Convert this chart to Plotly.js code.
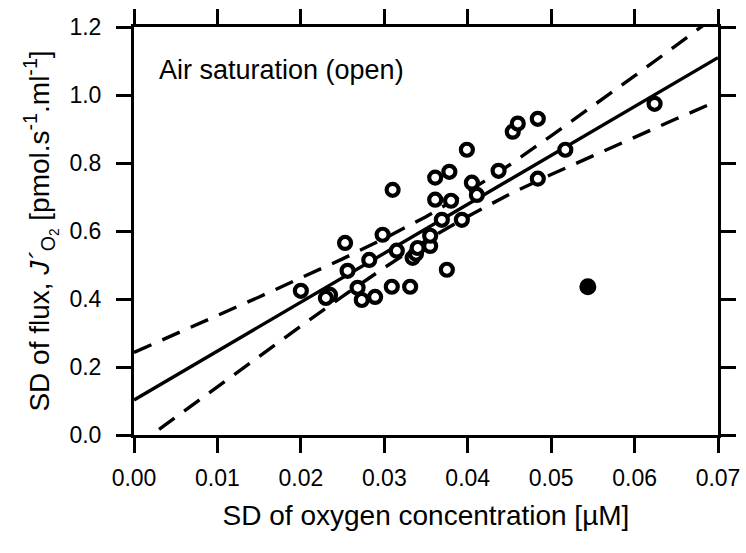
<!DOCTYPE html>
<html>
<head>
<meta charset="utf-8">
<script src="https://cdn.plot.ly/plotly-3.0.1.min.js"></script>
<style>html,body{margin:0;padding:0;background:#fff;}#chart{width:746px;height:553px;}</style>
</head>
<body>
<div id="chart"></div>
<script>
// Open circles (included in regression)
var sdOxygen = [0.0200, 0.0235, 0.0230, 0.0253, 0.0256, 0.0268, 0.0273, 0.0289, 0.0282, 0.0298,
                0.0309, 0.0310, 0.0315, 0.0331, 0.0334, 0.0338, 0.0340, 0.0355, 0.0355, 0.0361,
                0.0361, 0.0369, 0.0375, 0.0378, 0.0380, 0.0393, 0.0399, 0.0405, 0.0411, 0.0437,
                0.0454, 0.0460, 0.0484, 0.0484, 0.0517, 0.0624];
var sdFlux =   [0.424, 0.412, 0.403, 0.565, 0.483, 0.433, 0.397, 0.406, 0.515, 0.589,
                0.436, 0.721, 0.542, 0.436, 0.521, 0.533, 0.550, 0.556, 0.586, 0.757,
                0.692, 0.633, 0.486, 0.774, 0.689, 0.633, 0.839, 0.742, 0.706, 0.777,
                0.892, 0.916, 0.930, 0.754, 0.839, 0.974];
// Outlier (filled circle)
var outlierX = [0.0544];
var outlierY = [0.436];
// Regression line
var fitX = [0, 0.07];
var fitY = [0.103, 1.110];
// Confidence band
var bandX =  [0, 0.005, 0.01, 0.015, 0.02, 0.025, 0.03, 0.035, 0.04, 0.045, 0.05, 0.055, 0.06, 0.065, 0.07];
var upperY = [0.243, 0.297, 0.351, 0.406, 0.462, 0.518, 0.578, 0.642, 0.715, 0.794, 0.880, 0.967, 1.056, 1.146, 1.237];
var lowerY = [-0.037, 0.053, 0.143, 0.232, 0.320, 0.408, 0.492, 0.572, 0.643, 0.708, 0.766, 0.821, 0.876, 0.930, 0.983];
var xTicks = [0, 0.01, 0.02, 0.03, 0.04, 0.05, 0.06, 0.07];
var yTicks = [0, 0.2, 0.4, 0.6, 0.8, 1.0, 1.2];

var FONT = 'Liberation Sans, Arial, sans-serif';

var traces = [
  {x: bandX, y: upperY, mode: 'lines', line: {color: '#000', width: 3.4, dash: '19px,12px'}, hoverinfo: 'skip'},
  {x: bandX, y: lowerY, mode: 'lines', line: {color: '#000', width: 3.4, dash: '19px,12px'}, hoverinfo: 'skip'},
  {x: fitX, y: fitY, mode: 'lines', line: {color: '#000', width: 3.4}},
  {x: sdOxygen, y: sdFlux, mode: 'markers', cliponaxis: false,
   marker: {symbol: 'circle', size: 12, color: '#fff', line: {color: '#000', width: 4.2}}},
  {x: outlierX, y: outlierY, mode: 'markers', cliponaxis: false,
   marker: {symbol: 'circle', size: 17, color: '#000', line: {color: '#000', width: 0}}}
];

var axisCommon = {
  showgrid: false, zeroline: false, showline: true, linecolor: '#000', linewidth: 3,
  mirror: 'ticks', ticks: 'outside', ticklen: 15, tickwidth: 3, tickcolor: '#000',
  tickfont: {family: FONT, size: 23, color: '#000'}
};

var layout = {
  width: 746, height: 553,
  margin: {l: 134, r: 28, t: 27, b: 118},
  paper_bgcolor: '#fff', plot_bgcolor: '#fff',
  showlegend: false,
  font: {family: FONT, color: '#000'},
  xaxis: Object.assign({}, axisCommon, {
    range: [0, 0.07], tickvals: xTicks, tickformat: '.2f', ticklabelstandoff: 5,
    title: {text: 'SD of oxygen concentration [µM]', font: {family: FONT, size: 28, color: '#000'}, standoff: 16}
  }),
  yaxis: Object.assign({}, axisCommon, {
    range: [0, 1.2], tickvals: yTicks, tickformat: '.1f', ticklabelstandoff: 10,
    title: {text: 'SD of flux, <i>J´</i><sub>O<sub>2</sub></sub> [pmol.s<sup>-1</sup>.ml<sup>-1</sup>]', font: {family: FONT, size: 28, color: '#000'}, standoff: 12}
  }),
  annotations: [{
    xref: 'paper', yref: 'paper', x: 0.04, y: 0.895, xanchor: 'left', yanchor: 'middle',
    text: 'Air saturation (open)', showarrow: false, font: {family: FONT, size: 27, color: '#000'}
  }]
};

Plotly.newPlot('chart', traces, layout, {displayModeBar: false, staticPlot: true});
</script>
</body>
</html>
